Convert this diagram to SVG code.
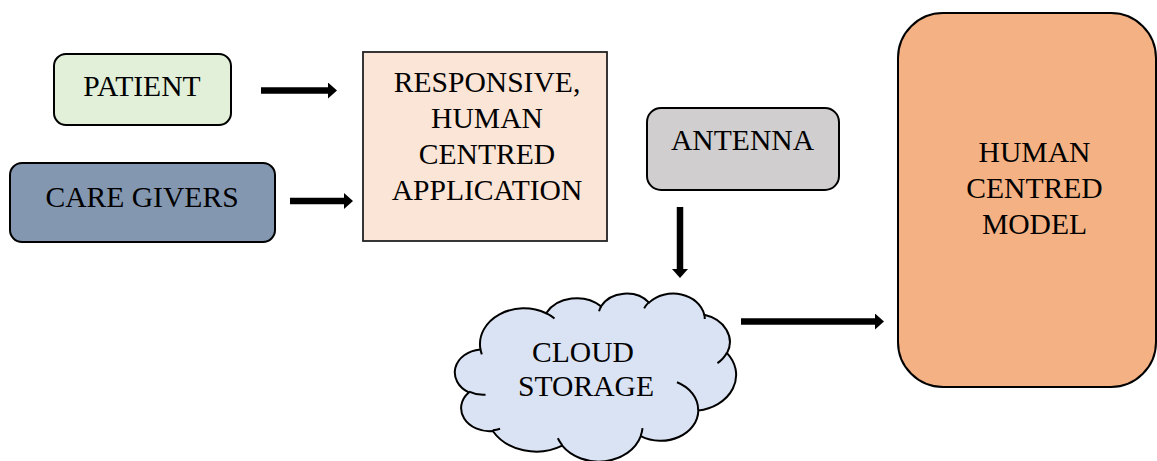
<svg xmlns="http://www.w3.org/2000/svg" width="1157" height="461" viewBox="0 0 1157 461">
<style>
.box{stroke:#000;stroke-width:2}
.lbl{font-family:"Liberation Serif","Times New Roman",serif;font-size:29.6px;fill:#000;text-anchor:middle}
.conn{stroke:#000;stroke-width:6.5;fill:none}
</style>
<defs>
<marker id="ah" viewBox="0 0 9 16" refX="0" refY="8" markerWidth="9" markerHeight="16" markerUnits="userSpaceOnUse" orient="auto">
<path d="M0,0 L9,8 L0,16 Z" fill="#000"/>
</marker>
</defs>
<rect width="1157" height="461" fill="#fff"/>
<g id="patient">
<rect class="box" x="54" y="54" width="177" height="71" rx="12" fill="#e2f0d9"/>
<text class="lbl" x="142" y="96">PATIENT</text>
</g>
<g id="caregivers">
<rect class="box" x="10" y="163" width="265" height="79" rx="12" fill="#8497b0"/>
<text class="lbl" x="142" y="207">CARE GIVERS</text>
</g>
<g id="application">
<rect x="363" y="52" width="244" height="189" fill="#fbe5d6" stroke="#222" stroke-width="1.8"/>
<text class="lbl" x="487" y="92">RESPONSIVE,</text>
<text class="lbl" x="487" y="127.5">HUMAN</text>
<text class="lbl" x="487" y="163.5">CENTRED</text>
<text class="lbl" x="487" y="199.5">APPLICATION</text>
</g>
<g id="antenna">
<rect class="box" x="647" y="108" width="192" height="82" rx="14" fill="#d0cece"/>
<text class="lbl" x="742.5" y="150">ANTENNA</text>
</g>
<g id="cloud">
<g transform="translate(455,293) scale(0.0065046,0.0038889)">
<path vector-effect="non-scaling-stroke" fill="#dae3f3" stroke="#000" stroke-width="2" d="M3900,14370 A6753,9190 0 0,1 14005.9,5202.7 A5333,7267 0 0,1 22457.3,3433.5 A4365,5945 0 0,1 29834.5,2482 A4857,6595 0 0,1 38319.9,5576.9 A5333,7273 0 0,1 41820.3,15460.8 A6775,9220 0 0,1 37405.7,30203.1 A5785,7867 0 0,1 28558,36813.9 A6752,9215 0 0,1 16483,39266.8 A7720,10543 0 0,1 5808.7,35478.1 A4360,5918 0 0,1 2117.6,25556.1 A4345,5945 0 0,1 3868.2,14513.2 Z"/>
<path vector-effect="non-scaling-stroke" fill="none" stroke="#000" stroke-width="2" d="M4693,26177 A4345,5945 0 0,1 2159.4,25379.2 M6928,34899 A4360,5918 0 0,1 5818.9,35280.8 M16478,39090 A6752,9215 0 0,1 15809.1,37346.8 M28827,34751 A6752,9215 0 0,1 28560.5,36660 M34129,22954 A5785,7867 0 0,1 37380.9,30089.8 M41798,15354 A5333,7273 0 0,1 40349.9,18030 M38324,5426 A4857,6595 0 0,1 38400.4,6689.5 M29078,3952 A4857,6595 0 0,1 29819.7,2340.1 M22141,4720 A4365,5945 0 0,1 22500.1,3330.1 M14000,5192 A6753,9190 0 0,1 15298.7,6539.4 M4127,15789 A6753,9190 0 0,1 3900,14369.8"/>
</g>
<text class="lbl" x="583" y="361.5">CLOUD</text>
<text class="lbl" x="586" y="395.5">STORAGE</text>
</g>
<g id="model">
<rect class="box" x="898" y="13" width="258" height="374" rx="45" fill="#f4b183"/>
<text class="lbl" x="1034.5" y="162">HUMAN</text>
<text class="lbl" x="1034.5" y="198">CENTRED</text>
<text class="lbl" x="1034.5" y="233.5">MODEL</text>
</g>
<g id="connectors">
<line class="conn" x1="261" y1="90.5" x2="328" y2="90.5" marker-end="url(#ah)"/>
<line class="conn" x1="290" y1="201" x2="344" y2="201" marker-end="url(#ah)"/>
<line class="conn" x1="680" y1="207" x2="680" y2="269" marker-end="url(#ah)"/>
<line class="conn" x1="741" y1="321.5" x2="875" y2="321.5" marker-end="url(#ah)"/>
</g>
</svg>
